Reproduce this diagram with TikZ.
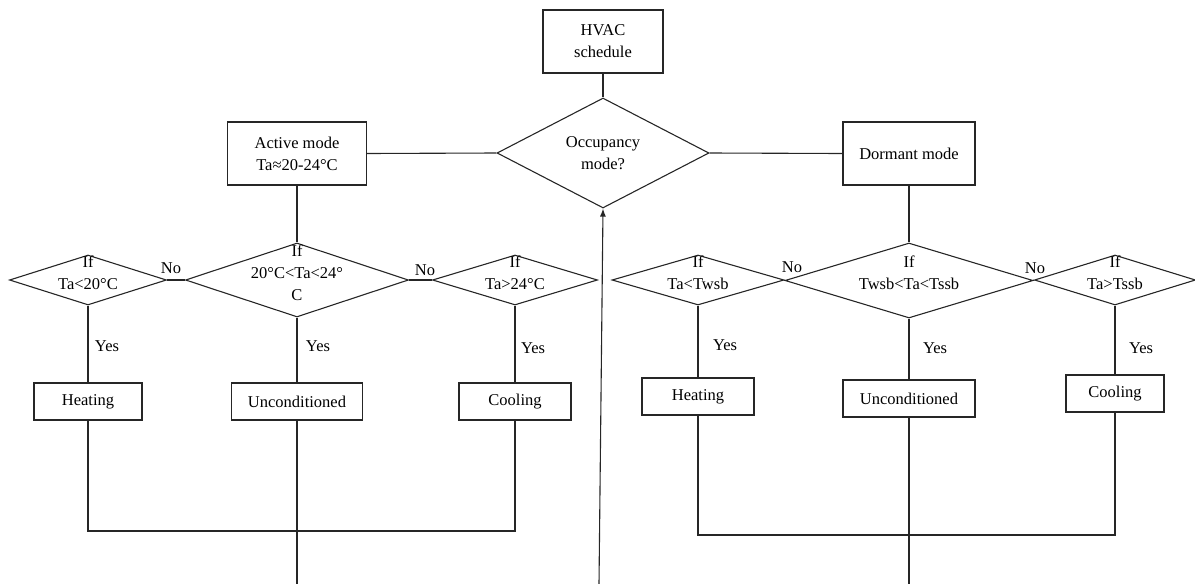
\documentclass[tikz,border=0pt]{standalone}
\usepackage{fontspec}
\setmainfont{Liberation Serif}
\usetikzlibrary{shapes.geometric,arrows.meta}
\tikzset{
  conn/.style={draw=black!85,line width=1.1pt},
  box/.style={draw=black!85,line width=1.1pt,rectangle,inner sep=0pt},
  dia/.style={draw=black!85,line width=1.1pt,diamond,inner sep=0pt},
  txt/.style={align=center,inner sep=0pt,font=\fontsize{16.5}{22}\selectfont},
}
\begin{document}
\begin{tikzpicture}[x=1pt,y=-1pt]
\useasboundingbox (0,0) rectangle (1195,584);
% top
\node[box,minimum width=120pt,minimum height=63pt] (hvac) at (603,41.5) {};
\node[txt] (hvact) at (603,41.5) {HVAC\\schedule};
\node[dia,minimum width=212pt,minimum height=110pt] (occ) at (603,153) {};
\node[txt] (occt) at (603,153) {Occupancy\\mode?};
\node[box,minimum width=139pt,minimum height=63pt] (act) at (297,153.5) {};
\node[txt] (actt) at (297,153.5) {Active mode\\Ta≈20-24°C};
\node[box,minimum width=132pt,minimum height=63pt] (dor) at (909,153.5) {};
\node[txt] (dort) at (909,153.5) {Dormant mode};
\draw[conn] (hvac.south) -- (occ.north);
\draw[conn] (act.east) -- (occ.west);
\draw[conn] (occ.east) -- (dor.west);
% left diamonds
\node[dia,minimum width=157pt,minimum height=50pt] (d1) at (88,280) {};
\node[txt] (d1t) at (88,272.5) {If\\Ta<20°C};
\node[dia,minimum width=223pt,minimum height=74pt] (d2) at (297,280) {};
\node[txt] (d2t) at (297,272.5) {If\\20°C<Ta<24°\\C};
\node[dia,minimum width=165pt,minimum height=50pt] (d3) at (515,280) {};
\node[txt] (d3t) at (515,272.5) {If\\Ta>24°C};
\draw[conn] (act.south) -- (d2.north);
\draw[conn] (d1.east) -- (d2.west);
\draw[conn] (d2.east) -- (d3.west);
\node[txt] (no1) at (171,268) {No};
\node[txt] (no2) at (425,270) {No};
% right diamonds
\node[dia,minimum width=172pt,minimum height=50pt] (d4) at (698,280) {};
\node[txt] (d4t) at (698,272.5) {If\\Ta<Twsb};
\node[dia,minimum width=248pt,minimum height=75pt] (d5) at (909,280.5) {};
\node[txt] (d5t) at (909,272.5) {If\\Twsb<Ta<Tssb};
\node[dia,minimum width=161pt,minimum height=50pt] (d6) at (1115,280) {};
\node[txt] (d6t) at (1115,272.5) {If\\Ta>Tssb};
\draw[conn] (dor.south) -- (d5.north);
\draw[conn] (d4.east) -- (d5.west);
\draw[conn] (d5.east) -- (d6.west);
\node[txt] (no3) at (792,267) {No};
\node[txt] (no4) at (1035,268) {No};
% left result boxes
\node[box,minimum width=108pt,minimum height=37pt] (h1) at (88,401.5) {};
\node[txt] (h1t) at (88,401.5) {Heating};
\node[box,minimum width=131pt,minimum height=37pt] (u1) at (297,401.5) {};
\node[txt] (u1t) at (297,401.5) {Unconditioned};
\node[box,minimum width=112pt,minimum height=37pt] (c1) at (515,401.5) {};
\node[txt] (c1t) at (515,401.5) {Cooling};
\draw[conn] (d1.south) -- (h1.north);
\draw[conn] (d2.south) -- (u1.north);
\draw[conn] (d3.south) -- (c1.north);
\node[txt] (y1) at (107,346) {Yes};
\node[txt] (y2) at (318,346) {Yes};
\node[txt] (y3) at (533,348) {Yes};
% right result boxes
\node[box,minimum width=112pt,minimum height=37pt] (h2) at (698,396.5) {};
\node[txt] (h2t) at (698,396.5) {Heating};
\node[box,minimum width=132pt,minimum height=37pt] (u2) at (909,398.5) {};
\node[txt] (u2t) at (909,398.5) {Unconditioned};
\node[box,minimum width=98pt,minimum height=37pt] (c2) at (1115,393.5) {};
\node[txt] (c2t) at (1115,393.5) {Cooling};
\draw[conn] (d4.south) -- (h2.north);
\draw[conn] (d5.south) -- (u2.north);
\draw[conn] (d6.south) -- (c2.north);
\node[txt] (y4) at (725,345) {Yes};
\node[txt] (y5) at (935,348) {Yes};
\node[txt] (y6) at (1141,348) {Yes};
% bottom loops
\coordinate (jl) at (297,531);
\coordinate (jr) at (909,535);
\coordinate (el) at (297,584);
\coordinate (er) at (909,584);
\coordinate (ain) at (599,584);
\draw[conn] (h1.south) |- (jl) -| (c1.south);
\draw[conn] (u1.south) -- (el);
\draw[conn] (h2.south) |- (jr) -| (c2.south);
\draw[conn] (u2.south) -- (er);
\draw[conn,-{Latex[length=8pt,width=6pt]}] (ain) -- (occ.south);
\end{tikzpicture}
\end{document}
